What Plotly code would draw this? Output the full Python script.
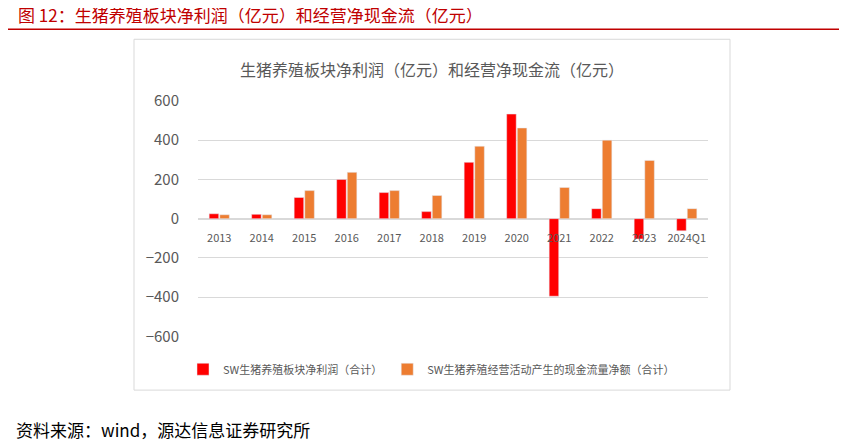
import plotly.graph_objects as go

years = ["2013","2014","2015","2016","2017","2018","2019","2020","2021","2022","2023","2024Q1"]
net_profit = [25, 22, 108, 200, 133, 36, 287, 533, -395, 51, -103, -62]
cash_flow = [20, 20, 143, 236, 143, 118, 369, 462, 159, 400, 297, 51]

def Y(r):
    t = (r - 20.6) / 0.959
    return (448 - t) / 448

font = "Noto Sans CJK SC"
fig = go.Figure()
fig.add_bar(x=years, y=net_profit, name="SW生猪养殖板块净利润（合计）", marker_color="#FF0000")
fig.add_bar(x=years, y=cash_flow, name="SW生猪养殖经营活动产生的现金流量净额（合计）", marker_color="#ED7D31")

fig.update_layout(
    width=847, height=448, paper_bgcolor="white", plot_bgcolor="white",
    font=dict(family=font, color="#595959"),
    margin=dict(l=0, r=0, t=0, b=0),
    barmode="group", bargap=0.5, bargroupgap=0.1,
    xaxis=dict(domain=[190/847, 700/847], showline=False, ticks="", tickfont=dict(size=11, color="#595959"),
               anchor="free", position=Y(232)),
    yaxis=dict(domain=[Y(339), Y(102)], range=[-600, 600], dtick=200,
               tickfont=dict(size=15, color="#595959"), showgrid=True, gridcolor="#D9D9D9",
               zeroline=True, zerolinecolor="#D9D9D9", ticklabelstandoff=18),
    legend=dict(orientation="h", x=0.5, xanchor="center", y=Y(372), yanchor="middle",
                font=dict(size=11, color="#595959")),
    showlegend=True,
)
fig.add_shape(type="rect", xref="paper", yref="paper", x0=126/847, x1=722/847,
              y0=Y(393), y1=Y(40), line=dict(color="#D9D9D9", width=1))
fig.add_shape(type="line", xref="paper", yref="paper", x0=0, x1=1, y0=Y(30), y1=Y(30),
              line=dict(color="#C00000", width=1.5))
fig.add_annotation(text="图 12：生猪养殖板块净利润（亿元）和经营净现金流（亿元）", xref="paper", yref="paper",
                   x=8/847, y=Y(15), xanchor="left", yanchor="middle", showarrow=False,
                   font=dict(size=17, color="#C00000", family=font))
fig.add_annotation(text="生猪养殖板块净利润（亿元）和经营净现金流（亿元）", xref="paper", yref="paper",
                   x=424/847, y=Y(70), xanchor="center", yanchor="middle", showarrow=False,
                   font=dict(size=16, color="#595959", family=font))
fig.add_annotation(text="资料来源：wind，源达信息证券研究所", xref="paper", yref="paper",
                   x=6/847, y=Y(433), xanchor="left", yanchor="middle", showarrow=False,
                   font=dict(size=17, color="#000000", family=font))
fig.write_html("out.html")
